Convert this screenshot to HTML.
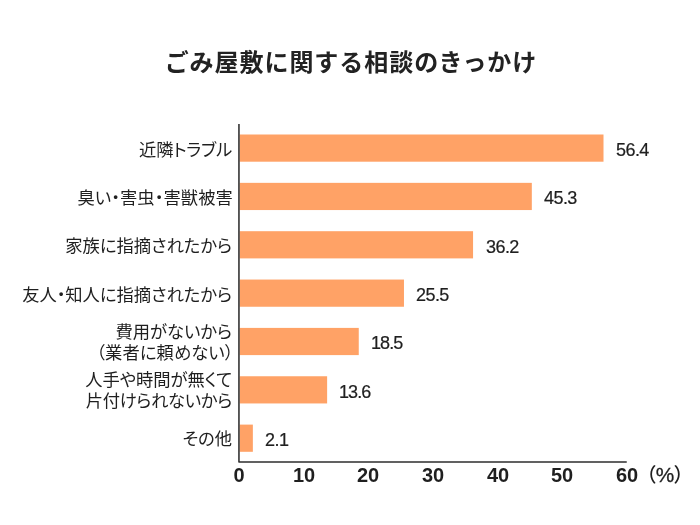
<!DOCTYPE html>
<html lang="ja">
<head>
<meta charset="utf-8">
<title>ごみ屋敷に関する相談のきっかけ</title>
<style>
  html, body { margin: 0; padding: 0; }
  body {
    width: 700px; height: 525px; position: relative; overflow: hidden;
    background: #ffffff;
    font-family: "Liberation Sans", "Noto Sans CJK JP", sans-serif;
    color: #222222;
  }
  .title, .lab, .val, .tick, .unit { will-change: transform; -webkit-font-smoothing: antialiased; }
  svg.chart { position: absolute; left: 0; top: 0; width: 700px; height: 525px; }
  .title {
    position: absolute; left: 0; top: 42.7px; width: 701.9px; height: 40px;
    line-height: 40px; text-align: center;
    font-size: 24px; font-weight: 700; letter-spacing: 0.95px;
    color: #222222; white-space: nowrap;
  }
  .lab {
    position: absolute; right: 468.5px; width: 260px; text-align: right;
    font-size: 17.3px; line-height: 21px; white-space: nowrap;
    font-feature-settings: "palt" 1; color: #1f1f1f;
  }
  .val {
    position: absolute; font-size: 18px; line-height: 20px; height: 20px;
    letter-spacing: -0.55px; -webkit-text-stroke: 0.22px #1f1f1f;
    white-space: nowrap; color: #1f1f1f;
  }
  .tick {
    position: absolute; top: 463.2px; width: 60px; margin-left: -30px; text-align: center;
    font-size: 20px; font-weight: 700; line-height: 24px; color: #1f1f1f; white-space: nowrap;
  }
  .unit {
    position: absolute; left: 646px; top: 462.8px; font-size: 19.5px; line-height: 24px;
    font-weight: 500; color: #1f1f1f; white-space: nowrap; font-feature-settings: "palt" 1;
  }
  .pct { font-size: 20.8px; -webkit-text-stroke: 0.3px #1f1f1f; }
</style>
</head>
<body>
  <svg class="chart" viewBox="0 0 700 525" shape-rendering="geometricPrecision">
    <g fill="#ffa266">
      <rect x="239.7" y="134.50" width="363.80" height="27.2"/>
      <rect x="239.7" y="182.85" width="292.12" height="27.2"/>
      <rect x="239.7" y="231.20" width="233.36" height="27.2"/>
      <rect x="239.7" y="279.55" width="164.27" height="27.2"/>
      <rect x="239.7" y="327.90" width="119.06" height="27.2"/>
      <rect x="239.7" y="376.25" width="87.42" height="27.2"/>
      <rect x="239.7" y="424.60" width="13.16" height="27.2"/>
    </g>
    <polyline points="238.95,124 238.95,461.9 626.75,461.9" fill="none" stroke="#2e2e2e" stroke-width="1.55" stroke-linejoin="round" stroke-linecap="butt"/>
  </svg>

  <div class="title">ごみ屋敷に関する相談のきっかけ</div>

  <div class="lab" style="top:139.7px; letter-spacing:-0.2px; margin-right:-0.9px;">近隣トラブル</div>
  <div class="lab" style="top:187.8px; margin-right:-1.1px; letter-spacing:0.1px;">臭い・害虫・害獣被害</div>
  <div class="lab" style="top:236.1px;">家族に指摘されたから</div>
  <div class="lab" style="top:284.5px;">友人・知人に指摘されたから</div>
  <div class="lab" style="top:321.6px;">費用がないから<br><span style="position:relative; left:1.6px; letter-spacing:0.12px;">（業者に頼めない）</span></div>
  <div class="lab" style="top:370px;">人手や時間が無くて<br><span style="letter-spacing:-0.27px;">片付けられないから</span></div>
  <div class="lab" style="top:429.3px;">その他</div>

  <div class="val" style="left:616px; top:140.0px;">56.4</div>
  <div class="val" style="left:544.3px; top:188.4px;">45.3</div>
  <div class="val" style="left:485.5px; top:236.7px;">36.2</div>
  <div class="val" style="left:416.4px; top:285.1px;">25.5</div>
  <div class="val" style="left:370.6px; top:333.4px; letter-spacing:-0.9px;">18.5</div>
  <div class="val" style="left:338.9px; top:381.8px; letter-spacing:-0.9px;">13.6</div>
  <div class="val" style="left:265.3px; top:430.1px;">2.1</div>

  <div class="tick" style="left:239.3px;">0</div>
  <div class="tick" style="left:303.9px;">10</div>
  <div class="tick" style="left:368.45px;">20</div>
  <div class="tick" style="left:433px;">30</div>
  <div class="tick" style="left:497.6px;">40</div>
  <div class="tick" style="left:562.2px;">50</div>
  <div class="tick" style="left:627.1px;">60</div>
  <div class="unit">（<span class="pct">%</span>）</div>
</body>
</html>
